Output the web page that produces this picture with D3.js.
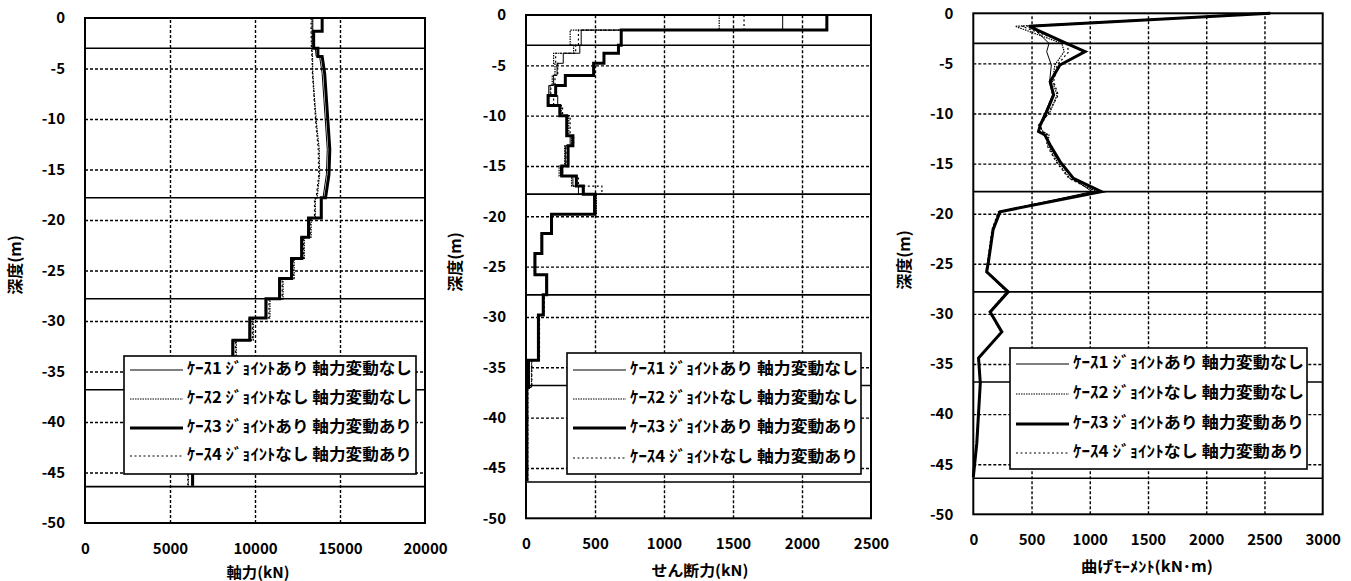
<!DOCTYPE html>
<html>
<head>
<meta charset="utf-8">
<script src="https://cdn.jsdelivr.net/npm/d3@7"></script>
<style>
  body { margin: 0; background: #fff; }
  svg { display: block; font-family: "Noto Sans CJK JP", "Noto Sans", sans-serif; font-weight: bold; }
  .grid line { stroke: #000; stroke-width: 1.4; stroke-dasharray: 3, 2; }
  .grid path { display: none; }
  .ticks path, .ticks line { display: none; }
  .ticks text { font-size: 15px; font-weight: bold; fill: #000; font-family: "Noto Sans CJK JP", sans-serif; }
</style>
</head>
<body>
<svg width="1351" height="581"></svg>
<script>
// shared
const depthTicks = [0, -5, -10, -15, -20, -25, -30, -35, -40, -45, -50];
const layerBounds = [-3.0, -17.8, -27.8, -36.8, -46.4];
const caseNames = [
  "ｹｰｽ1 ｼﾞｮｲﾝﾄあり 軸力変動なし",
  "ｹｰｽ2 ｼﾞｮｲﾝﾄなし 軸力変動なし",
  "ｹｰｽ3 ｼﾞｮｲﾝﾄあり 軸力変動あり",
  "ｹｰｽ4 ｼﾞｮｲﾝﾄなし 軸力変動あり"
];

// axial force (kN)
const axialTicks = [0, 5000, 10000, 15000, 20000];
const axialDepth = [0, -1.3, -1.3, -3, -3, -3.8, -3.8, -5.5, -8, -10.5, -13, -15.5, -17.8, -17.8,
  -19.8, -19.8, -21.7, -21.7, -23.8, -23.8, -25.8, -25.8, -27.8, -27.8, -29.7, -29.7, -31.9, -31.9,
  -34, -34, -36.2, -36.2, -38.4, -38.4, -40.6, -40.6, -42.8, -42.8, -44.6, -44.6, -46.3];
const axialCase1 = [13400, 13400, 13400, 13450, 13550, 13600, 13800, 13950, 14050, 14150, 14250, 14200, 14000, 13850,
  13850, 13100, 13100, 12700, 12700, 12100, 12100, 11400, 11400, 10600, 10600, 9650, 9650, 8650,
  8650, 8050, 8050, 7550, 7550, 7150, 7150, 6850, 6850, 6550, 6550, 6300, 6300];
const axialCase2 = [13350, 13350, 13350, 13350, 13350, 13380, 13380, 13400, 13500, 13620, 13780, 13800, 13650, 13550,
  13550, 13300, 13300, 12900, 12900, 12300, 12300, 11650, 11650, 10880, 10880, 9900, 9900, 8900,
  8900, 8250, 8250, 7700, 7700, 7250, 7250, 6800, 6800, 6400, 6400, 6080, 6080];
const axialCase3 = [13950, 13950, 13450, 13450, 13700, 13700, 13950, 14100, 14200, 14300, 14400, 14350, 14150, 13900,
  13900, 13150, 13150, 12750, 12750, 12150, 12150, 11450, 11450, 10650, 10650, 9700, 9700, 8700,
  8700, 8100, 8100, 7600, 7600, 7200, 7200, 6900, 6900, 6600, 6600, 6330, 6330];
const axialCase4 = [13300, 13300, 13300, 13320, 13320, 13350, 13350, 13380, 13480, 13580, 13720, 13750, 13600, 13500,
  13500, 13250, 13250, 12850, 12850, 12250, 12250, 11600, 11600, 10820, 10820, 9850, 9850, 8850,
  8850, 8200, 8200, 7650, 7650, 7200, 7200, 6750, 6750, 6350, 6350, 6050, 6050];

// shear force (kN), step tops + pile toe
const shearTicks = [0, 500, 1000, 1500, 2000, 2500];
const shearDepth = [0, -1.5, -3, -3.8, -4.8, -6, -7, -8, -9, -10, -12, -13, -15, -16, -17, -17.8,
  -19.8, -21.7, -23.7, -25.8, -27.8, -29.8, -34.3, -37, -46.3];
const shearCase1 = [1860, 400, 390, 270, 225, 200, 165, 230, 250, 300, 320, 285, 250, 340, 380, 490,
  180, 112, 62, 145, 122, 88, 20, 7, 7];
const shearCase2 = [1400, 320, 345, 200, 210, 190, 175, 165, 255, 310, 330, 280, 240, 330, 420, 510,
  178, 110, 60, 148, 130, 95, 40, 12, 12];
const shearCase3 = [2180, 690, 670, 565, 490, 285, 215, 160, 245, 295, 340, 305, 260, 365, 415, 500,
  185, 115, 65, 150, 125, 90, 18, 6, 6];
const shearCase4 = [1580, 380, 360, 215, 230, 210, 180, 200, 265, 320, 345, 290, 265, 380, 550, 495,
  182, 113, 63, 152, 133, 98, 42, 13, 13];

// bending moment (kN·m)
const momentTicks = [0, 500, 1000, 1500, 2000, 2500, 3000];
const momentDepth = [0, -1.3, -3.0, -3.83, -5.16, -6.83, -8.15, -9.82, -11.15, -11.8, -12.15, -13.14, -14.8,
  -16.47, -17.8, -19.8, -21.6, -24.8, -25.8, -27.8, -29.8, -31.8, -34.4, -36.9, -42.9, -46.3];
const momentCase1 = [2560, 500, 650, 630, 670, 655, 680, 620, 570, 565, 610, 650, 735,
  850, 1020, 225, 168, 128, 113, 295, 143, 242, 44, 58, 29, 0];
const momentCase2 = [2500, 360, 760, 780, 700, 680, 720, 660, 560, 600, 650, 640, 720,
  830, 1060, 220, 165, 125, 110, 290, 140, 240, 48, 62, 32, 0];
const momentCase3 = [2550, 480, 800, 960, 744, 660, 690, 630, 575, 560, 615, 660, 745,
  860, 1100, 230, 170, 130, 115, 300, 145, 245, 45, 60, 30, 0];
const momentCase4 = [2520, 420, 800, 820, 720, 690, 730, 650, 580, 590, 640, 630, 710,
  820, 1050, 215, 160, 122, 108, 288, 138, 238, 46, 60, 30, 0];

// line look per case
const caseStyles = [
  { width: 1, dash: null },
  { width: 1.2, dash: "1.5,1" },
  { width: 3, dash: null },
  { width: 1.2, dash: "2,2.5" }
];

const panels = [
  {
    left: 85, right: 425, top: 18, bottom: 523,
    ticks: axialTicks, depth: axialDepth, curve: d3.curveLinear,
    series: [axialCase1, axialCase2, axialCase3, axialCase4],
    title: "軸力(kN)", titleX: 258, titleY: 574, titleLen: 63,
    yLabelX: 17, yLabelY: 265,
    legend: { x: 124, y: 356, w: 292, h: 118, rows: [14, 43, 72, 100], textLen: 225 }
  },
  {
    left: 526, right: 871, top: 15, bottom: 518.3,
    ticks: shearTicks, depth: shearDepth, curve: d3.curveStepBefore,
    series: [shearCase1, shearCase2, shearCase3, shearCase4],
    title: "せん断力(kN)", titleX: 700, titleY: 572, titleLen: 97,
    yLabelX: 457, yLabelY: 262,
    legend: { x: 567, y: 353, w: 294, h: 121, rows: [17, 46, 75, 105], textLen: 228 }
  },
  {
    left: 973.3, right: 1322.7, top: 13.3, bottom: 514.3,
    ticks: momentTicks, depth: momentDepth, curve: d3.curveLinear,
    series: [momentCase1, momentCase2, momentCase3, momentCase4],
    title: "曲げﾓｰﾒﾝﾄ(kN･m)", titleX: 1147, titleY: 568, titleLen: 132,
    yLabelX: 906, yLabelY: 260,
    legend: { x: 1010, y: 348, w: 297, h: 121, rows: [16, 46, 76, 105], textLen: 231 }
  }
];

const svg = d3.select("svg");

panels.forEach(p => {
  const w = p.right - p.left;
  const h = p.bottom - p.top;
  const x = d3.scaleLinear().domain([0, p.ticks[p.ticks.length - 1]]).range([p.left, p.right]);
  const y = d3.scaleLinear().domain([-50, 0]).range([p.bottom, p.top]);

  // grid
  svg.append("g")
    .attr("class", "grid")
    .attr("transform", `translate(${p.left},0)`)
    .call(d3.axisLeft(y).tickValues(depthTicks.slice(1, -1)).tickSize(-w).tickFormat(""));
  svg.append("g")
    .attr("class", "grid")
    .attr("transform", `translate(0,${p.bottom})`)
    .call(d3.axisBottom(x).tickValues(p.ticks.slice(1, -1)).tickSize(h).tickFormat(""))
    .selectAll("line").attr("y2", -h);

  // layer boundaries
  svg.append("g")
    .selectAll("line")
    .data(layerBounds)
    .join("line")
    .attr("x1", p.left)
    .attr("x2", p.right)
    .attr("y1", d => y(d))
    .attr("y2", d => y(d))
    .attr("stroke", "#000")
    .attr("stroke-width", 1.6);

  // curves
  const line = d3.line()
    .x(d => x(d[0]))
    .y(d => y(d[1]))
    .curve(p.curve);
  [2, 0, 1, 3].forEach(i => {
    svg.append("path")
      .datum(p.series[i].map((v, j) => [v, p.depth[j]]))
      .attr("fill", "none")
      .attr("stroke", "#000")
      .attr("stroke-width", caseStyles[i].width)
      .attr("stroke-dasharray", caseStyles[i].dash)
      .attr("d", line);
  });

  // frame
  svg.append("rect")
    .attr("x", p.left)
    .attr("y", p.top)
    .attr("width", w)
    .attr("height", h)
    .attr("fill", "none")
    .attr("stroke", "#000")
    .attr("stroke-width", 2);

  // tick labels
  svg.append("g")
    .attr("class", "ticks")
    .attr("transform", `translate(${p.left},0)`)
    .call(d3.axisLeft(y).tickValues(depthTicks).tickSize(0).tickPadding(20).tickFormat(d => String(d)));
  svg.append("g")
    .attr("class", "ticks")
    .attr("transform", `translate(0,${p.bottom})`)
    .call(d3.axisBottom(x).tickValues(p.ticks).tickSize(0).tickPadding(20).tickFormat(d => String(d)));

  // axis titles
  svg.append("text")
    .attr("x", p.titleX)
    .attr("y", p.titleY)
    .attr("text-anchor", "middle")
    .attr("dominant-baseline", "middle")
    .attr("font-size", 15)
    .attr("textLength", p.titleLen)
    .attr("lengthAdjust", "spacingAndGlyphs")
    .text(p.title);
  svg.append("text")
    .attr("transform", `translate(${p.yLabelX},${p.yLabelY}) rotate(-90)`)
    .attr("text-anchor", "middle")
    .attr("dominant-baseline", "middle")
    .attr("font-size", 16)
    .text("深度(m)");

  // legend
  const lg = svg.append("g").attr("transform", `translate(${p.legend.x},${p.legend.y})`);
  lg.append("rect")
    .attr("width", p.legend.w)
    .attr("height", p.legend.h)
    .attr("fill", "#fff")
    .attr("stroke", "#000")
    .attr("stroke-width", 1.6);
  caseNames.forEach((name, i) => {
    const ry = p.legend.rows[i];
    lg.append("line")
      .attr("x1", 6)
      .attr("x2", 59)
      .attr("y1", ry)
      .attr("y2", ry)
      .attr("stroke", "#000")
      .attr("stroke-width", caseStyles[i].width)
      .attr("stroke-dasharray", caseStyles[i].dash);
    lg.append("text")
      .attr("x", 63)
      .attr("y", ry)
      .attr("dominant-baseline", "middle")
      .attr("font-size", 16)
      .attr("textLength", p.legend.textLen)
      .attr("lengthAdjust", "spacingAndGlyphs")
      .text(name);
  });
});
</script>
</body>
</html>
